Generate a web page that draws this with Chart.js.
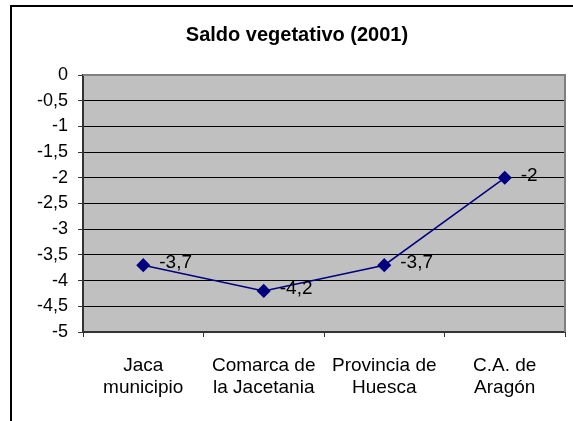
<!DOCTYPE html>
<html>

<head>
  <script src="https://cdn.jsdelivr.net/npm/chart.js@4.4.1/dist/chart.umd.min.js"></script>
  <style>
    body { margin: 0; background: #fff; }
  </style>
</head>

<body>
  <div style="position: relative; width:573px; height:421px">
    <canvas id="myChart" width="573" height="421"></canvas>
  </div>
  <script type="text/javascript">
    // data
    var categories = [['Jaca', 'municipio'], ['Comarca de', 'la Jacetania'], ['Provincia de', 'Huesca'], ['C.A. de', 'Aragón']];
    var saldo = [-3.7, -4.2, -3.7, -2];
    var yMin = -5, yMax = 0, yStep = 0.5;

    var FONT = '"Liberation Sans", Arial, sans-serif';

    function comma(v) {
      return String(v).replace('.', ',');
    }

    // gray plot area, outer frame, value labels
    var excelLook = {
      id: 'excelLook',
      beforeDraw: function(chart) {
        var c = chart.ctx, a = chart.chartArea;
        c.save();
        c.fillStyle = '#fff';
        c.fillRect(0, 0, chart.width, chart.height);
        c.strokeStyle = '#000';
        c.lineWidth = 2;
        c.strokeRect(11, 6, chart.width + 20, chart.height + 20);
        c.fillStyle = '#c0c0c0';
        c.fillRect(a.left, a.top, a.right - a.left, a.bottom - a.top);
        c.restore();
      },
      afterDatasetsDraw: function(chart) {
        var c = chart.ctx, a = chart.chartArea;
        c.save();
        c.strokeStyle = '#808080';
        c.lineWidth = 2;
        c.beginPath();
        c.moveTo(a.left, a.top);
        c.lineTo(a.right, a.top);
        c.lineTo(a.right, a.bottom);
        c.stroke();
        c.font = '19px ' + FONT;
        c.fillStyle = '#000';
        c.textBaseline = 'middle';
        chart.getDatasetMeta(0).data.forEach(function(pt, i) {
          c.fillText(comma(saldo[i]), pt.x + 16, pt.y - 2);
        });
        c.restore();
      }
    };

    var ctx = document.getElementById('myChart').getContext('2d');
    var chart = new Chart(ctx, {
      type: 'line',
      data: {
        labels: categories,
        datasets: [{
          label: 'Saldo vegetativo',
          data: saldo,
          borderColor: '#000080',
          backgroundColor: '#000080',
          borderWidth: 1.5,
          pointStyle: 'rectRot',
          pointRadius: 6,
          pointHoverRadius: 6,
          lineTension: 0,
          fill: false
        }]
      },
      options: {
        responsive: false,
        animation: false,
        layout: {
          padding: { left: 29, right: 8, top: 0, bottom: 0 }
        },
        plugins: {
          legend: { display: false },
          tooltip: { enabled: false },
          title: {
            display: true,
            text: 'Saldo vegetativo (2001)',
            color: '#000',
            font: { family: FONT, size: 20, weight: 'bold' },
            padding: { top: 23, bottom: 28 }
          }
        },
        scales: {
          x: {
            offset: true,
            grid: {
              offset: true,
              drawOnChartArea: false,
              drawTicks: true,
              tickLength: 5,
              color: '#333'
            },
            border: { color: '#333', width: 2 },
            ticks: {
              color: '#000',
              padding: 17,
              maxRotation: 0,
              font: { family: FONT, size: 19 }
            },
            afterFit: function(s) { s.height = 89; }
          },
          y: {
            min: yMin,
            max: yMax,
            ticks: {
              stepSize: yStep,
              color: '#000',
              padding: 10,
              font: { family: FONT, size: 18 },
              callback: function(v) { return comma(v); }
            },
            grid: {
              color: function(c) { return c.tick && c.tick.value === 0 ? '#808080' : '#000'; },
              tickColor: '#333',
              tickLength: 5,
              lineWidth: 1
            },
            border: { color: '#333', width: 2 },
            afterFit: function(s) { s.width = 54; }
          }
        }
      },
      plugins: [excelLook]
    });
  </script>
</body>

</html>
